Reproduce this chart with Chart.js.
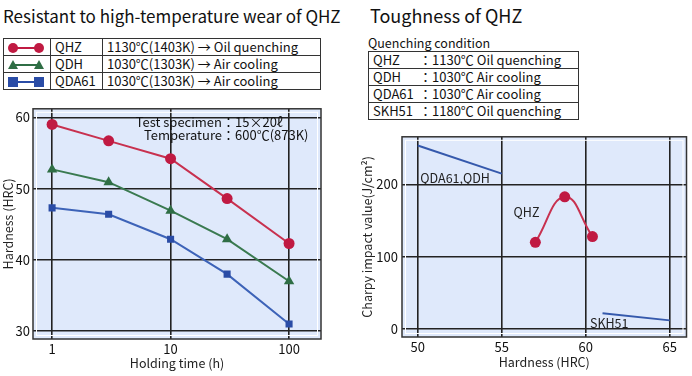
<!DOCTYPE html>
<html>
<head>
<meta charset="utf-8">
<script src="https://cdn.jsdelivr.net/npm/chart.js@4/dist/chart.umd.min.js"></script>
<style>
  body { margin: 0; background: #fff; font-family: "Noto Sans CJK JP", "Noto Sans", sans-serif; color: #111; }
  #page { position: relative; width: 692px; height: 376px; overflow: hidden; }
  .abs { position: absolute; }
  .title { white-space: nowrap; }
  table { border-collapse: collapse; font-size: 13px; }
  td { border: 1.5px solid #333; padding: 0 4px; height: 16px; line-height: 16px; white-space: nowrap; }
  .mk { position: relative; display: inline-block; width: 36px; height: 12px; vertical-align: middle; }
  .mk i { position: absolute; left: 4px; right: 4px; top: 5px; height: 2px; }
  .mk b { position: absolute; top: 1px; width: 10px; height: 10px; }
  .note { font-size: 13px; white-space: nowrap; line-height: 13px; z-index: 2; }
  canvas { display: block; }
</style>
</head>
<body>
<div id="page">
  <div class="abs title" style="left:3px; top:3px; font-size:17px;">Resistant to high-temperature wear of QHZ</div>
  <table class="abs" style="left:3px; top:38px; width:318px;">
    <tr><td style="width:38px"><span class="mk" id="mk0"></span></td><td style="width:43px">QHZ</td><td>1130℃(1403K) → Oil quenching</td></tr>
    <tr><td><span class="mk" id="mk1"></span></td><td>QDH</td><td>1030℃(1303K) → Air cooling</td></tr>
    <tr><td><span class="mk" id="mk2"></span></td><td>QDA61</td><td>1030℃(1303K) → Air cooling</td></tr>
  </table>
  <div class="abs" style="left:0; top:98px;"><canvas id="wear" width="330" height="278"></canvas></div>
  <div class="abs note" style="right:470px; top:115px; text-align:right;">Test specimen<br>Temperature</div>
  <div class="abs note" style="left:222px; top:115px;">：15×20ℓ<br>：600℃(873K)</div>

  <div class="abs title" style="left:370px; top:2px; font-size:18px;">Toughness of QHZ</div>
  <div class="abs" style="left:368px; top:33px; font-size:12.5px;">Quenching condition</div>
  <table class="abs" style="left:368px; top:51px; width:211px;">
    <tr><td style="width:42px; border-right:none">QHZ</td><td style="border-left:none; padding-left:0">：1130℃&nbsp;Oil quenching</td></tr>
    <tr><td style="border-right:none">QDH</td><td style="border-left:none; padding-left:0">：1030℃&nbsp;Air cooling</td></tr>
    <tr><td style="border-right:none">QDA61</td><td style="border-left:none; padding-left:0">：1030℃&nbsp;Air cooling</td></tr>
    <tr><td style="border-right:none">SKH51</td><td style="border-left:none; padding-left:0">：1180℃&nbsp;Oil quenching</td></tr>
  </table>
  <div class="abs" style="left:350px; top:125px;"><canvas id="tough" width="342" height="251"></canvas></div>
</div>
<script>
// left chart data
const holdHours = [1, 3, 10, 30, 100];
const qhzHardness = [59.0, 56.7, 54.2, 48.6, 42.3];
const qdhHardness = [52.7, 50.9, 46.9, 42.9, 37.0];
const qda61Hardness = [47.3, 46.4, 42.9, 38.0, 31.0];
const hourTicks = [1, 10, 100];
const hardTicks = [30, 40, 50, 60];

// right chart data
const qhzHrc = [57.0, 58.75, 60.4];
const qhzImpact = [120, 183, 128];
const qdaHrc = [50, 55];
const qdaImpact = [254, 215];
const skhHrc = [61, 65];
const skhImpact = [22, 12];
const hrcTicks = [50, 55, 60, 65];
const impactTicks = [0, 100, 200];

const RED = "#c01a42", GREEN = "#2f6e45", BLUE = "#2a4ca6";
const FONT = "'Noto Sans CJK JP', 'Noto Sans', sans-serif";

// legend swatches
[RED, GREEN, BLUE].forEach((c, i) => {
  const el = document.getElementById("mk" + i);
  let shape;
  if (i === 0) shape = `border-radius:50%;background:${c}`;
  else if (i === 1) shape = `width:0;height:0;background:none;border-left:5px solid transparent;border-right:5px solid transparent;border-bottom:9px solid ${c}`;
  else shape = `background:${c}`;
  el.innerHTML = `<i style="background:${c}"></i><b style="left:0;${shape}"></b><b style="right:0;${shape}"></b>`;
});

const frame = {
  id: "frame",
  beforeDraw(chart) {
    const { ctx, chartArea: a } = chart;
    ctx.save();
    ctx.fillStyle = "#dfe9fb";
    ctx.fillRect(a.left, a.top, a.right - a.left, a.bottom - a.top);
    ctx.restore();
  },
  afterDatasetsDraw(chart) {
    const { ctx, chartArea: a } = chart;
    ctx.save();
    ctx.strokeStyle = "#fff";
    ctx.lineWidth = 1;
    ctx.strokeRect(a.left + 3.5, a.top + 3.5, a.right - a.left - 7, a.bottom - a.top - 7);
    ctx.strokeStyle = "#333";
    ctx.lineWidth = 1.5;
    ctx.strokeRect(a.left, a.top, a.right - a.left, a.bottom - a.top);
    ctx.restore();
  }
};

function fixedTicks(list) {
  return s => { s.ticks = list.map(v => ({ value: v })); };
}

function axis(extra) {
  return Object.assign({
    grid: { color: "#222", lineWidth: 1.6, drawTicks: false },
    border: { display: false }
  }, extra);
}

const tickFont = { family: FONT, size: 13 };
const titleFont = { family: FONT, size: 12.5 };

new Chart(document.getElementById("wear"), {
  type: "line",
  data: {
    labels: holdHours,
    datasets: [
      { label: "QHZ", data: qhzHardness, borderColor: "#c8314f", backgroundColor: RED, pointStyle: "circle", pointRadius: 5.5 },
      { label: "QDH", data: qdhHardness, borderColor: "#3a7a50", backgroundColor: GREEN, pointStyle: "triangle", pointRadius: 6 },
      { label: "QDA61", data: qda61Hardness, borderColor: "#3d63b8", backgroundColor: BLUE, pointStyle: "rect", pointRadius: 5 }
    ].map(d => Object.assign(d, { borderWidth: 2, pointBorderWidth: 0, pointBackgroundColor: d.backgroundColor, tension: 0 }))
  },
  options: {
    responsive: false, animation: false,
    layout: { padding: { top: 5, right: 9, left: 0, bottom: 0 } },
    plugins: { legend: { display: false }, tooltip: { enabled: false } },
    scales: {
      x: axis({
        type: "logarithmic", min: 0.69, max: 186,
        afterBuildTicks: fixedTicks(hourTicks),
        afterFit: s => { s.height = 37; },
        ticks: { color: "#111", font: tickFont, padding: 2, maxRotation: 0, autoSkip: false, callback: v => String(v) },
        title: { display: true, text: "Holding time (h)", color: "#222", font: titleFont, padding: { top: 0, bottom: 5 } }
      }),
      y: axis({
        min: 28.9, max: 61.2,
        afterBuildTicks: fixedTicks(hardTicks),
        afterFit: s => { s.width = 33; },
        ticks: { color: "#111", font: tickFont, padding: 3, callback: v => String(v) },
        title: { display: true, text: "Hardness (HRC)", color: "#222", font: titleFont, padding: { top: 1, bottom: 0 } }
      })
    }
  },
  plugins: [frame]
});

const toToughPoints = (xs, ys) => xs.map((x, i) => ({ x, y: ys[i] }));

const curveLabels = {
  id: "curveLabels",
  afterDatasetsDraw(chart) {
    const { ctx, scales: { x, y } } = chart;
    ctx.save();
    ctx.fillStyle = "#222";
    ctx.font = "12.5px " + FONT;
    ctx.textBaseline = "middle";
    ctx.fillText("QDA61,QDH", x.getPixelForValue(50.15), y.getPixelForValue(209));
    ctx.fillText("QHZ", x.getPixelForValue(55.7), y.getPixelForValue(161));
    ctx.fillText("SKH51", x.getPixelForValue(60.25), y.getPixelForValue(8));
    ctx.restore();
  }
};

new Chart(document.getElementById("tough"), {
  type: "scatter",
  data: {
    datasets: [
      { label: "QDA61,QDH", data: toToughPoints(qdaHrc, qdaImpact), borderColor: "#3559ac", showLine: true, pointRadius: 0, borderWidth: 2 },
      { label: "QHZ", data: toToughPoints(qhzHrc, qhzImpact), borderColor: "#c8314f", backgroundColor: RED, pointBackgroundColor: RED, showLine: true, tension: 0.45, pointRadius: 5.5, pointBorderWidth: 0, borderWidth: 2 },
      { label: "SKH51", data: toToughPoints(skhHrc, skhImpact), borderColor: "#3559ac", showLine: true, pointRadius: 0, borderWidth: 2 }
    ]
  },
  options: {
    responsive: false, animation: false,
    layout: { padding: { top: 7, right: 2, left: 0, bottom: 0 } },
    plugins: { legend: { display: false }, tooltip: { enabled: false } },
    scales: {
      x: axis({
        type: "linear", min: 49.06, max: 66.0,
        afterBuildTicks: fixedTicks(hrcTicks),
        afterFit: s => { s.height = 39; },
        ticks: { color: "#111", font: tickFont, padding: 2, maxRotation: 0, callback: v => String(v) },
        title: { display: true, text: "Hardness (HRC)", color: "#222", font: titleFont, padding: { top: 0, bottom: 6 } }
      }),
      y: axis({
        min: -11, max: 266,
        afterBuildTicks: fixedTicks(impactTicks),
        afterFit: s => { s.width = 52; },
        ticks: { color: "#111", font: tickFont, padding: 4, callback: v => String(v) },
        title: { display: true, text: "Charpy impact value(J/cm²)", color: "#222", font: titleFont, padding: { top: 10, bottom: 0 } }
      })
    }
  },
  plugins: [frame, curveLabels]
});
</script>
</body>
</html>
